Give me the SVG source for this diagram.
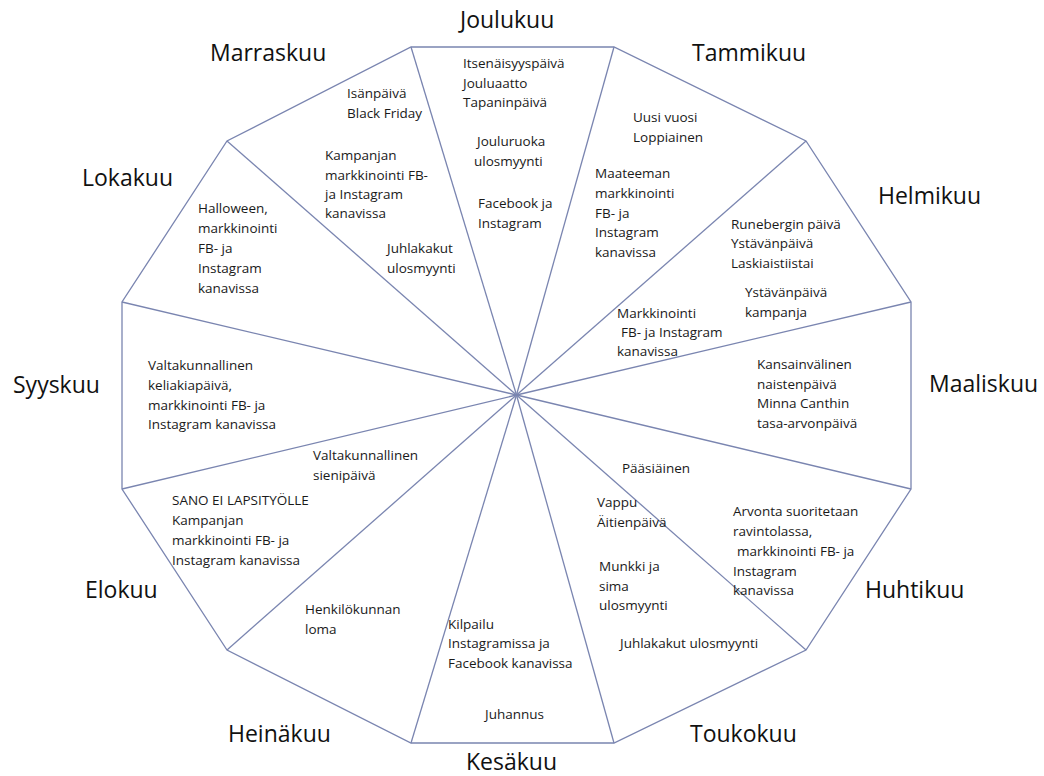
<svg xmlns="http://www.w3.org/2000/svg" width="1044" height="776" viewBox="0 0 1044 776">
<style>
.edge{fill:none;stroke:#7a85b0;stroke-width:1.3;stroke-linejoin:miter}
.spoke{stroke:#7a85b0;stroke-width:1.3}
.m{font-family:"Open Sans","Liberation Sans",sans-serif;font-size:23px;fill:#111}
.t{font-family:"Open Sans","Liberation Sans",sans-serif;font-size:13.5px;fill:#1a1a1a}
</style>
<rect width="1044" height="776" fill="#ffffff"/>
<g id="outline">
<polygon class="edge" points="411,47 614,47 806,141 911,302 911,489 806,650 614,743 411,743 227,650 122,489 122,302 227,141"/>
</g>
<g id="connectors">
<line class="spoke" x1="516.5" y1="395" x2="411" y2="47"/>
<line class="spoke" x1="516.5" y1="395" x2="614" y2="47"/>
<line class="spoke" x1="516.5" y1="395" x2="806" y2="141"/>
<line class="spoke" x1="516.5" y1="395" x2="911" y2="302"/>
<line class="spoke" x1="516.5" y1="395" x2="911" y2="489"/>
<line class="spoke" x1="516.5" y1="395" x2="806" y2="650"/>
<line class="spoke" x1="516.5" y1="395" x2="614" y2="743"/>
<line class="spoke" x1="516.5" y1="395" x2="411" y2="743"/>
<line class="spoke" x1="516.5" y1="395" x2="227" y2="650"/>
<line class="spoke" x1="516.5" y1="395" x2="122" y2="489"/>
<line class="spoke" x1="516.5" y1="395" x2="122" y2="302"/>
<line class="spoke" x1="516.5" y1="395" x2="227" y2="141"/>
</g>
<g id="joulukuu">
<text class="m" x="460" y="28">Joulukuu</text>
<text class="t" x="463" y="68">Itsenäisyyspäivä</text>
<text class="t" x="463" y="88">Jouluaatto</text>
<text class="t" x="463" y="107">Tapaninpäivä</text>
<text class="t" x="477" y="146">Jouluruoka</text>
<text class="t" x="474" y="166">ulosmyynti</text>
<text class="t" x="478" y="208">Facebook ja</text>
<text class="t" x="478" y="228">Instagram</text>
</g>
<g id="tammikuu">
<text class="m" x="692" y="61">Tammikuu</text>
<text class="t" x="633" y="122">Uusi vuosi</text>
<text class="t" x="633" y="142">Loppiainen</text>
<text class="t" x="595" y="178">Maateeman</text>
<text class="t" x="595" y="198">markkinointi</text>
<text class="t" x="595" y="218">FB- ja</text>
<text class="t" x="595" y="237">Instagram</text>
<text class="t" x="595" y="257">kanavissa</text>
</g>
<g id="helmikuu">
<text class="m" x="878" y="204">Helmikuu</text>
<text class="t" x="731" y="229">Runebergin päivä</text>
<text class="t" x="731" y="248">Ystävänpäivä</text>
<text class="t" x="731" y="268">Laskiaistiistai</text>
<text class="t" x="745" y="297">Ystävänpäivä</text>
<text class="t" x="745" y="317">kampanja</text>
<text class="t" x="617" y="318">Markkinointi</text>
<text class="t" x="621" y="337">FB- ja Instagram</text>
<text class="t" x="617" y="356">kanavissa</text>
</g>
<g id="maaliskuu">
<text class="m" x="929" y="392">Maaliskuu</text>
<text class="t" x="757" y="369">Kansainvälinen</text>
<text class="t" x="757" y="389">naistenpäivä</text>
<text class="t" x="757" y="408">Minna Canthin</text>
<text class="t" x="757" y="428">tasa-arvonpäivä</text>
</g>
<g id="huhtikuu">
<text class="m" x="865" y="598">Huhtikuu</text>
<text class="t" x="622" y="473">Pääsiäinen</text>
<text class="t" x="733" y="516">Arvonta suoritetaan</text>
<text class="t" x="733" y="536">ravintolassa,</text>
<text class="t" x="737" y="556">markkinointi FB- ja</text>
<text class="t" x="733" y="576">Instagram</text>
<text class="t" x="733" y="595">kanavissa</text>
</g>
<g id="toukokuu">
<text class="m" x="690" y="742">Toukokuu</text>
<text class="t" x="597" y="507">Vappu</text>
<text class="t" x="597" y="527">Äitienpäivä</text>
<text class="t" x="599" y="571">Munkki ja</text>
<text class="t" x="599" y="591">sima</text>
<text class="t" x="599" y="610">ulosmyynti</text>
<text class="t" x="620" y="648">Juhlakakut ulosmyynti</text>
</g>
<g id="kesakuu">
<text class="m" x="466" y="770">Kesäkuu</text>
<text class="t" x="448" y="629">Kilpailu</text>
<text class="t" x="448" y="648">Instagramissa ja</text>
<text class="t" x="448" y="668">Facebook kanavissa</text>
<text class="t" x="485" y="719">Juhannus</text>
</g>
<g id="heinakuu">
<text class="m" x="228" y="742">Heinäkuu</text>
<text class="t" x="305" y="614">Henkilökunnan</text>
<text class="t" x="305" y="634">loma</text>
</g>
<g id="elokuu">
<text class="m" x="85" y="598">Elokuu</text>
<text class="t" x="313" y="460">Valtakunnallinen</text>
<text class="t" x="313" y="480">sienipäivä</text>
<text class="t" x="172" y="505">SANO EI LAPSITYÖLLE</text>
<text class="t" x="172" y="525">Kampanjan</text>
<text class="t" x="172" y="545">markkinointi FB- ja</text>
<text class="t" x="172" y="565">Instagram kanavissa</text>
</g>
<g id="syyskuu">
<text class="m" x="13" y="393">Syyskuu</text>
<text class="t" x="148" y="370">Valtakunnallinen</text>
<text class="t" x="148" y="390">keliakiapäivä,</text>
<text class="t" x="148" y="410">markkinointi FB- ja</text>
<text class="t" x="148" y="429">Instagram kanavissa</text>
</g>
<g id="lokakuu">
<text class="m" x="82" y="186">Lokakuu</text>
<text class="t" x="198" y="213">Halloween,</text>
<text class="t" x="198" y="233">markkinointi</text>
<text class="t" x="198" y="253">FB- ja</text>
<text class="t" x="198" y="273">Instagram</text>
<text class="t" x="198" y="293">kanavissa</text>
</g>
<g id="marraskuu">
<text class="m" x="210" y="61">Marraskuu</text>
<text class="t" x="347" y="98">Isänpäivä</text>
<text class="t" x="347" y="118">Black Friday</text>
<text class="t" x="325" y="160">Kampanjan</text>
<text class="t" x="325" y="180">markkinointi FB-</text>
<text class="t" x="325" y="199">ja Instagram</text>
<text class="t" x="325" y="218">kanavissa</text>
<text class="t" x="387" y="253">Juhlakakut</text>
<text class="t" x="387" y="273">ulosmyynti</text>
</g>
</svg>
